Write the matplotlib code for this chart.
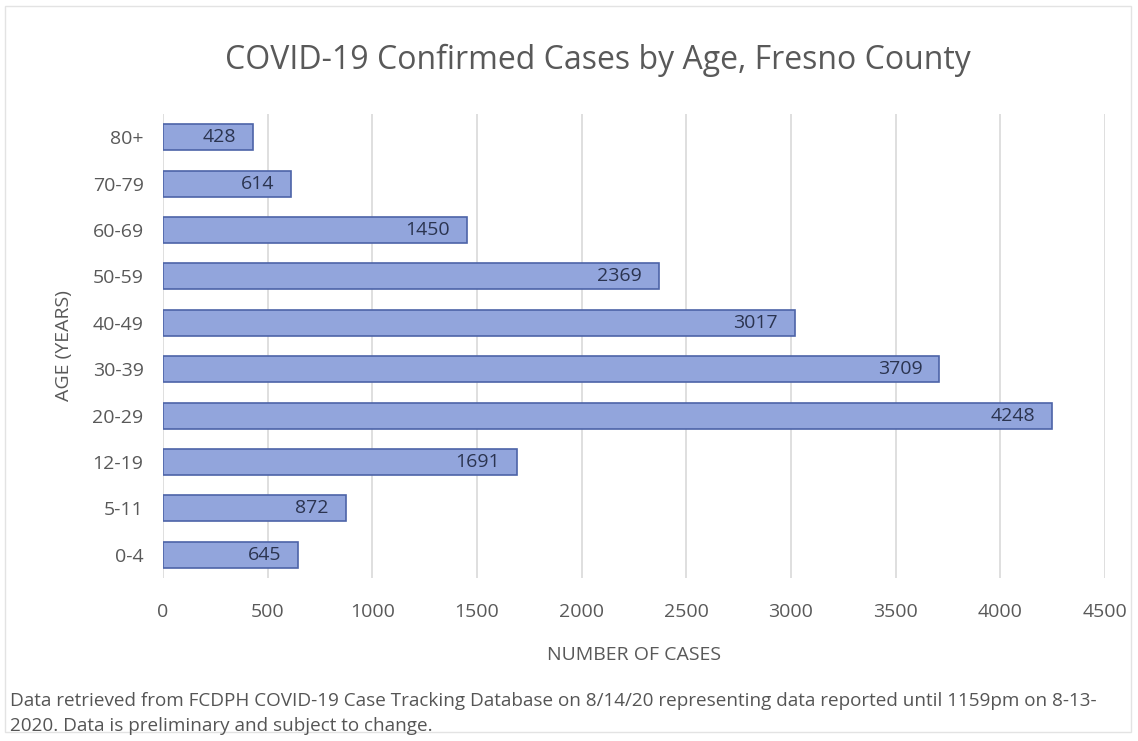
"""
plot.py - COVID-19 confirmed cases by age group, Fresno County.
"""

import matplotlib
matplotlib.use('Agg')  # Non-interactive backend
import matplotlib.pyplot as plt
from matplotlib.patches import Rectangle

age_groups = ['0-4', '5-11', '12-19', '20-29', '30-39', '40-49', '50-59', '60-69', '70-79', '80+']
cases = [645, 872, 1691, 4248, 3709, 3017, 2369, 1450, 614, 428]
x_ticks = [0, 500, 1000, 1500, 2000, 2500, 3000, 3500, 4000, 4500]

TITLE = 'COVID-19 Confirmed Cases by Age, Fresno County'
FOOTNOTE = ('Data retrieved from FCDPH COVID-19 Case Tracking Database on 8/14/20 representing data reported until 1159pm on 8-13-\n'
            '2020. Data is preliminary and subject to change.')

GRAY = '#595959'
plt.rcParams['font.family'] = ['Liberation Sans Narrow', 'Open Sans', 'DejaVu Sans']

fig = plt.figure(figsize=(11.38, 7.41), dpi=100)
ax = fig.add_axes([0.1432, 0.22, 0.8278, 0.626])

ypos = list(range(len(age_groups)))
ax.barh(ypos, cases, height=0.56, color='#92a5dc', edgecolor='#4d64a8', linewidth=1.2, zorder=3)

for y, v in zip(ypos, cases):
    ax.annotate(str(v), (v, y), xytext=(-12, 0), textcoords='offset points',
                ha='right', va='center', fontsize=14, color='#2b3450', zorder=4)

ax.set_xlim(0, 4500)
ax.set_ylim(-0.5, len(age_groups) - 0.5)
ax.set_xticks(x_ticks)
ax.set_xticklabels([str(t) for t in x_ticks], fontsize=14, color=GRAY)
ax.set_yticks(ypos)
ax.set_yticklabels(age_groups, fontsize=14, color=GRAY)
ax.tick_params(axis='both', length=0)
ax.tick_params(axis='x', pad=18)
ax.tick_params(axis='y', pad=14)
ax.grid(True, axis='x', color='#d9d9d9', linewidth=1.2, zorder=0)
for s in ax.spines.values():
    s.set_visible(False)

ax.set_xlabel('NUMBER OF CASES', fontsize=14, color=GRAY, labelpad=18)
ax.set_ylabel('AGE (YEARS)', fontsize=14, color=GRAY, labelpad=14)

fig.text(0.525, 0.918, TITLE, ha='center', va='center', fontsize=23, color=GRAY,
         family=['Open Sans', 'DejaVu Sans'])
fig.text(0.009, 0.037, FOOTNOTE, ha='left', va='center', fontsize=13.6, color='#555555', linespacing=1.45)

# thin frame around the chart area
fig.patches.append(Rectangle((0.004, 0.012), 0.99, 0.98, transform=fig.transFigure,
                             fill=False, edgecolor='#e3e3e3', linewidth=1))

plt.savefig('out.png', dpi=100)
plt.close()
